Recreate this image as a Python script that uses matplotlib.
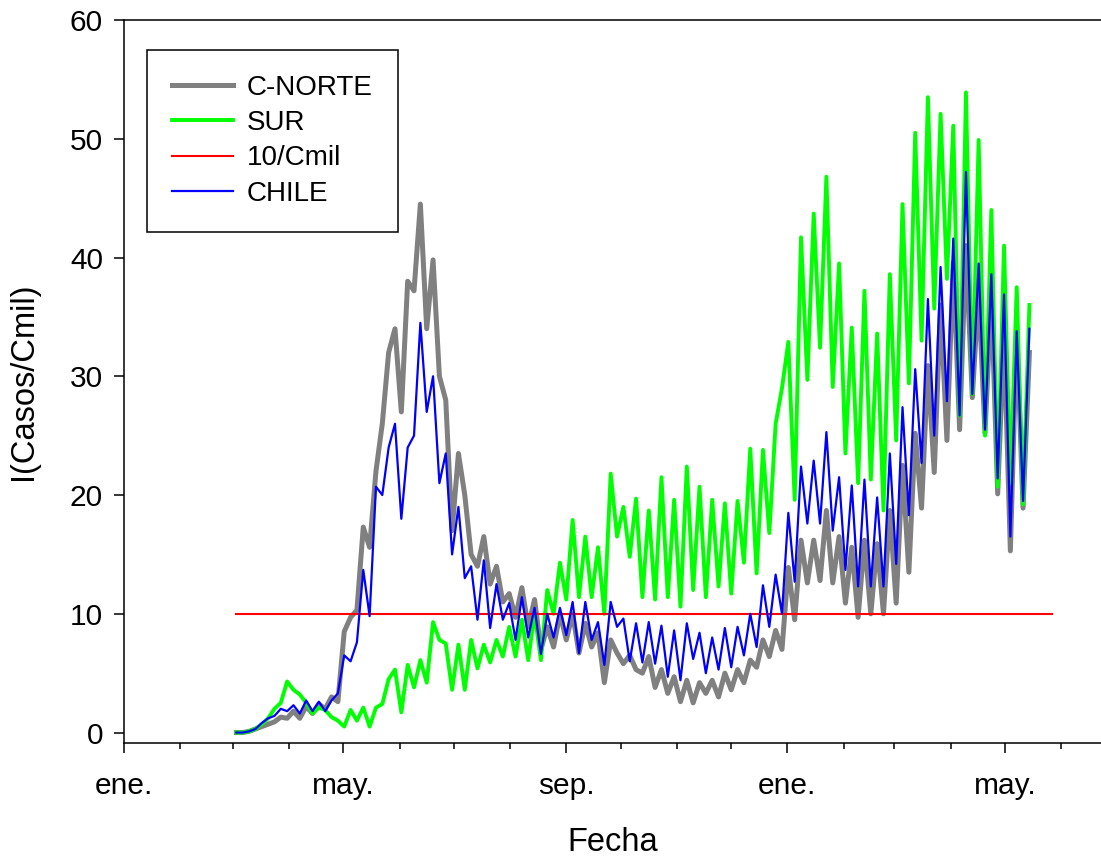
import matplotlib
matplotlib.use("Agg")
import numpy as np
import pandas as pd
import matplotlib.pyplot as plt
import matplotlib.dates as mdates
from matplotlib.ticker import FuncFormatter

plt.rcParams['font.family'] = ['Liberation Sans', 'DejaVu Sans']

# series sampled every half week (3.5 days) starting 2020-03-03
start_date = "2020-03-03"
step_days = 3.5

c_norte = [0, 0, 0.1, 0.3, 0.5, 0.7, 0.9, 1.3, 1.2, 1.8,
           1.2, 2.2, 1.6, 2.4, 2.0, 3.0, 2.6, 8.5, 9.7, 10.3,
           17.3, 15.6, 22.0, 26.0, 32.0, 34.0, 27.0, 38.0, 37.2, 44.5,
           34.0, 39.8, 30.0, 28.0, 17.0, 23.5, 20.0, 15.0, 14.0, 16.5,
           12.5, 14.0, 11.0, 11.7, 9.7, 12.2, 8.9, 11.2, 7.0, 8.9,
           7.2, 10.0, 7.8, 10.0, 6.7, 9.2, 7.2, 8.4, 4.2, 7.8,
           6.7, 5.8, 6.5, 5.3, 5.0, 6.4, 3.8, 5.3, 3.3, 4.7,
           2.6, 4.4, 2.5, 4.2, 3.3, 4.4, 3.0, 5.0, 3.6, 5.3,
           4.2, 6.1, 5.5, 7.8, 6.4, 8.6, 7.0, 13.9, 9.5, 16.2,
           12.6, 16.2, 12.8, 18.7, 12.6, 16.5, 10.9, 15.6, 9.7, 16.2,
           10.0, 15.9, 10.0, 18.7, 10.9, 22.5, 13.5, 25.2, 18.9, 30.9,
           21.9, 36.0, 24.6, 39.6, 25.5, 41.0, 28.2, 37.2, 25.2, 36.9,
           20.1, 33.6, 15.3, 33.9, 18.9, 32.0]

sur = [0, 0, 0.1, 0.3, 0.7, 1.2, 2.0, 2.5, 4.3, 3.6,
       3.2, 2.5, 1.6, 2.1, 1.9, 1.3, 1.0, 0.5, 1.9, 1.0,
       2.1, 0.5, 2.1, 2.4, 4.5, 5.3, 1.7, 5.7, 3.8, 6.1,
       4.2, 9.3, 7.8, 7.5, 3.6, 7.4, 3.6, 7.8, 5.4, 7.4,
       5.9, 7.8, 6.4, 8.9, 6.4, 9.5, 6.1, 10.0, 6.1, 12.0,
       10.0, 14.3, 11.2, 17.9, 11.4, 16.5, 11.4, 15.6, 10.0, 21.8,
       16.5, 19.0, 14.8, 19.7, 11.4, 18.7, 11.2, 21.5, 11.4, 19.6,
       10.6, 22.4, 12.0, 20.7, 11.4, 19.6, 12.3, 19.3, 11.7, 19.5,
       14.3, 23.9, 13.4, 23.8, 16.8, 26.0, 29.0, 32.9, 19.6, 41.7,
       29.7, 43.7, 32.4, 46.8, 29.1, 39.5, 23.5, 34.1, 21.0, 37.2,
       21.3, 33.6, 18.7, 38.6, 24.6, 44.5, 29.4, 50.5, 33.0, 53.5,
       35.7, 52.1, 38.2, 51.1, 26.7, 53.9, 28.5, 49.9, 25.0, 44.0,
       20.7, 41.0, 21.0, 37.5, 19.2, 36.0]

chile = [0, 0, 0.1, 0.3, 0.8, 1.2, 1.4, 2.0, 1.8, 2.3,
         1.6, 2.7, 1.8, 2.6, 1.8, 2.7, 3.3, 6.5, 6.0, 7.6,
         13.7, 9.8, 20.7, 20.0, 24.0, 26.0, 18.0, 24.0, 25.0, 34.5,
         27.0, 30.0, 21.0, 23.5, 15.0, 19.0, 13.0, 14.0, 9.5, 14.5,
         8.8, 12.5, 9.5, 10.9, 7.8, 11.4, 8.0, 10.5, 6.6, 10.0,
         8.0, 10.5, 8.2, 11.0, 6.7, 11.0, 7.8, 9.3, 5.7, 11.0,
         8.9, 9.6, 6.0, 9.2, 5.9, 9.3, 5.8, 9.0, 4.7, 8.6,
         4.4, 9.2, 6.2, 8.4, 5.0, 8.0, 5.3, 8.8, 5.5, 8.9,
         6.5, 10.0, 7.2, 12.4, 8.9, 13.3, 10.0, 18.5, 12.7, 22.4,
         17.6, 22.9, 17.6, 25.3, 17.0, 21.5, 13.7, 20.8, 12.3, 21.3,
         12.3, 19.8, 12.3, 23.5, 14.2, 27.4, 18.3, 30.6, 22.7, 36.5,
         25.0, 39.2, 27.9, 41.6, 26.7, 47.2, 28.5, 39.5, 25.5, 38.6,
         21.4, 36.9, 16.5, 33.8, 19.5, 34.0]

umbral_fechas = ["2020-03-03", "2021-05-27"]
umbral = [10, 10]

meses = {1: "ene.", 5: "may.", 9: "sep."}

fechas = pd.Timestamp(start_date) + pd.to_timedelta(np.arange(len(chile)) * step_days, unit="D")
f_umbral = pd.to_datetime(umbral_fechas)

fig = plt.figure(figsize=(11.01, 8.59), dpi=100)
ax = fig.add_axes([124 / 1101, 116 / 859, 977 / 1101, 723 / 859])

ax.plot(fechas, c_norte, color="#808080", lw=3.6, label="C-NORTE")
ax.plot(fechas, sur, color="#00ff00", lw=2.8, label="SUR")
ax.plot(f_umbral, umbral, color="#ff0000", lw=1.5, label="10/Cmil")
ax.plot(fechas, chile, color="#0000ff", lw=1.6, label="CHILE")

ax.set_xlim(pd.Timestamp("2020-01-01"), pd.Timestamp("2021-06-23"))
ax.set_ylim(-0.88, 60)

ax.xaxis.set_major_locator(mdates.MonthLocator(bymonth=[1, 5, 9]))
ax.xaxis.set_minor_locator(mdates.MonthLocator())
ax.xaxis.set_major_formatter(FuncFormatter(lambda v, p: meses.get(mdates.num2date(v).month, "")))
ax.set_yticks(range(0, 61, 10))

for s in ["left", "bottom", "top"]:
    ax.spines[s].set_linewidth(1.1)
ax.spines["right"].set_visible(False)

ax.tick_params(axis="both", which="major", direction="out", length=7.2, width=1.1,
               labelsize=21.5, top=False, right=False)
ax.tick_params(axis="x", which="major", pad=14)
ax.tick_params(axis="y", which="major", pad=8)
ax.tick_params(axis="x", which="minor", direction="out", length=4.3, width=1.1, top=False)

ax.set_xlabel("Fecha", fontsize=23.5, labelpad=19)
ax.set_ylabel("I(Casos/Cmil)", fontsize=23.5, labelpad=22)

leg = ax.legend(loc="upper left", bbox_to_anchor=(0.0235, 0.9585), borderaxespad=0,
                fontsize=20, frameon=True, fancybox=False, framealpha=1,
                edgecolor="black", handlelength=2.2, handletextpad=0.5,
                labelspacing=0.33, borderpad=0.9)
leg.get_frame().set_linewidth(1.1)

fig.savefig("out.png", dpi=100)
